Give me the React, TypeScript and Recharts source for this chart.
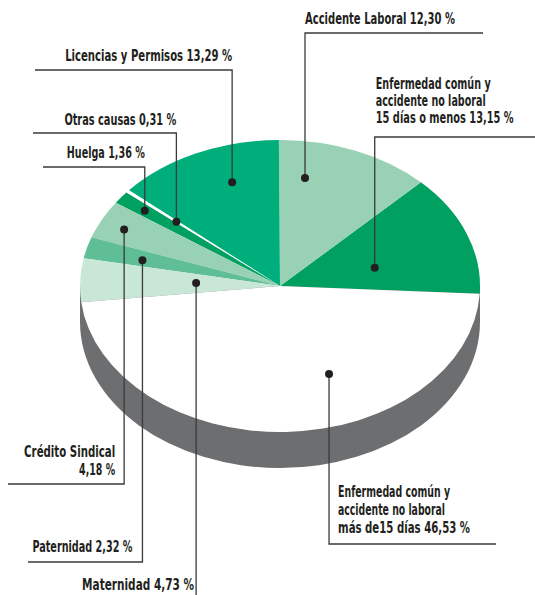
import { PieChart, Pie } from 'recharts'

// causes of absence, in the order they run round the pie (counter-clockwise from 3 o'clock)
const causes = [
  'Enfermedad común y accidente no laboral 15 días o menos',
  'Accidente Laboral',
  'Licencias y Permisos',
  'Otras causas',
  'Huelga',
  'Crédito Sindical',
  'Paternidad',
  'Maternidad',
  'Enfermedad común y accidente no laboral más de15 días',
]

const shares = [13.15, 12.3, 13.29, 0.31, 1.36, 4.18, 2.32, 4.73, 46.53]

// label text, the percentage is added to the last line
const labelLines = [
  ['Enfermedad común y', 'accidente no laboral', '15 días o menos'],
  ['Accidente Laboral'],
  ['Licencias y Permisos'],
  ['Otras causas'],
  ['Huelga'],
  ['Crédito Sindical', ''],
  ['Paternidad'],
  ['Maternidad'],
  ['Enfermedad común y', 'accidente no laboral', 'más de15 días'],
]

const sliceColors = ['#00a160', '#99d1b5', '#00ae7b', '#ffffff', '#00a160', '#99d1b5', '#5fbe96', '#c9e7d7', '#ffffff']

const FLAT = 0.73 // vertical squash of the pie top
const DEPTH = 36 // height of the grey side
const RAD = Math.PI / 180
const SQUEEZE = 0.76 // horizontal squeeze to get a condensed look
const FONT = "'DejaVu Sans Condensed', 'Liberation Sans Narrow', Roboto, sans-serif"

// where each dot sits inside its slice (t = share of the slice angle, r = share of the radius)
// and where the leader line and text go
const labelLayout = [
  { t: 0.37, r: 0.49, lineY: 137, lineEnd: 535, side: 'start', dx: 1, dy: -14, gap: 17, widths: [115, 110, 138] },
  { t: 0.78, r: 0.75, lineY: 33, lineEnd: 483, side: 'start', dx: 0, dy: -9, gap: 17, widths: [150] },
  { t: 0.375, r: 0.75, lineY: 70, lineEnd: 35, side: 'end', dx: 0, dy: -9, gap: 17, widths: [167] },
  { t: 0.5, r: 0.68, lineY: 133, lineEnd: 33, side: 'end', dx: 0, dy: -8, gap: 17, widths: [112] },
  { t: 0.5, r: 0.85, lineY: 167, lineEnd: 43, side: 'end', dx: 0, dy: -9, gap: 17, widths: [78] },
  { t: 0.55, r: 0.87, lineY: 484, lineEnd: 8, side: 'end', dx: -9, dy: -9, gap: 18, widths: [91, 36] },
  { t: 0.6, r: 0.71, lineY: 562, lineEnd: 28, side: 'end', dx: -10, dy: -10, gap: 17, widths: [100] },
  { t: 0.47, r: 0.42, lineY: 600, lineEnd: null, side: 'end', dx: -2, dy: -10, gap: 17, widths: [112] },
  { t: 0.62, r: 0.65, lineY: 544, lineEnd: 496, side: 'start', dx: 9, dy: -11, gap: 18, widths: [112, 107, 132] },
]

const fmt = (v: number) => `${v.toFixed(2).replace('.', ',')} %`

const data = causes.map((name, i) => ({ name, value: shares[i], color: sliceColors[i] }))

function EllipseSector(props: any) {
  const { cx, cy, outerRadius, startAngle, endAngle } = props
  const fill = props.payload?.color ?? props.color ?? props.fill
  const rx = outerRadius
  const ry = outerRadius * FLAT
  const x0 = cx + rx * Math.cos(startAngle * RAD)
  const y0 = cy - ry * Math.sin(startAngle * RAD)
  const x1 = cx + rx * Math.cos(endAngle * RAD)
  const y1 = cy - ry * Math.sin(endAngle * RAD)
  const large = Math.abs(endAngle - startAngle) > 180 ? 1 : 0
  return <path d={`M${cx},${cy} L${x0},${y0} A${rx},${ry} 0 ${large} 0 ${x1},${y1} Z`} fill={fill} stroke="none" />
}

function SideWall(props: any) {
  const { cx, cy, outerRadius } = props
  const rx = outerRadius
  const ry = outerRadius * FLAT
  return (
    <path
      d={`M${cx - rx},${cy} L${cx - rx},${cy + DEPTH} A${rx},${ry} 0 0 0 ${cx + rx},${cy + DEPTH} L${cx + rx},${cy} Z`}
      fill="#6d6e70"
      stroke="none"
    />
  )
}

function renderLabel(props: any) {
  const { cx, cy, outerRadius, startAngle, endAngle } = props
  const i = props.index ?? causes.indexOf(props.payload?.name ?? props.name)
  const L = labelLayout[i]
  const a = (startAngle + (endAngle - startAngle) * L.t) * RAD
  const x = cx + outerRadius * L.r * Math.cos(a)
  const y = cy - outerRadius * FLAT * L.r * Math.sin(a)
  const lines = labelLines[i].map((s, k, arr) => (k === arr.length - 1 ? `${s} ${fmt(shares[i])}`.trim() : s))
  const n = lines.length
  const anchorX = x + L.dx
  return (
    <g key={`lbl-${i}`}>
      <polyline
        points={L.lineEnd === null ? `${x},${y} ${x},${L.lineY}` : `${x},${y} ${x},${L.lineY} ${L.lineEnd},${L.lineY}`}
        fill="none"
        stroke="#3a3a3a"
        strokeWidth={1.3}
      />
      <circle cx={x} cy={y} r={4} fill="#231f20" />
      {lines.map((s, k) => {
        const w = L.widths[k]
        const tx = L.side === 'start' ? anchorX : anchorX - w
        const ty = L.lineY + L.dy - (n - 1 - k) * L.gap
        return (
          <text
            key={k}
            x={0}
            y={0}
            transform={`translate(${tx},${ty}) scale(${SQUEEZE},1)`}
            textLength={w / SQUEEZE}
            lengthAdjust="spacingAndGlyphs"
            fill="#231f20"
            fontFamily={FONT}
            fontWeight="bold"
            fontSize={15.5}
          >
            {s}
          </text>
        )
      })}
    </g>
  )
}

export default function App() {
  return (
    <div style={{ position: 'absolute', left: 0, top: 0 }}>
      <PieChart width={535} height={595} margin={{ top: 0, right: 0, bottom: 0, left: 0 }}>
        <Pie
          data={[{ name: 'side', value: 1 }]}
          dataKey="value"
          cx={280}
          cy={286}
          outerRadius={200}
          shape={SideWall}
          label={false}
          labelLine={false}
          isAnimationActive={false}
        />
        <Pie
          data={data}
          dataKey="value"
          nameKey="name"
          cx={280}
          cy={286}
          outerRadius={200}
          startAngle={-3}
          endAngle={357}
          stroke="none"
          shape={EllipseSector}
          label={renderLabel}
          labelLine={false}
          isAnimationActive={false}
        />
      </PieChart>
    </div>
  )
}
